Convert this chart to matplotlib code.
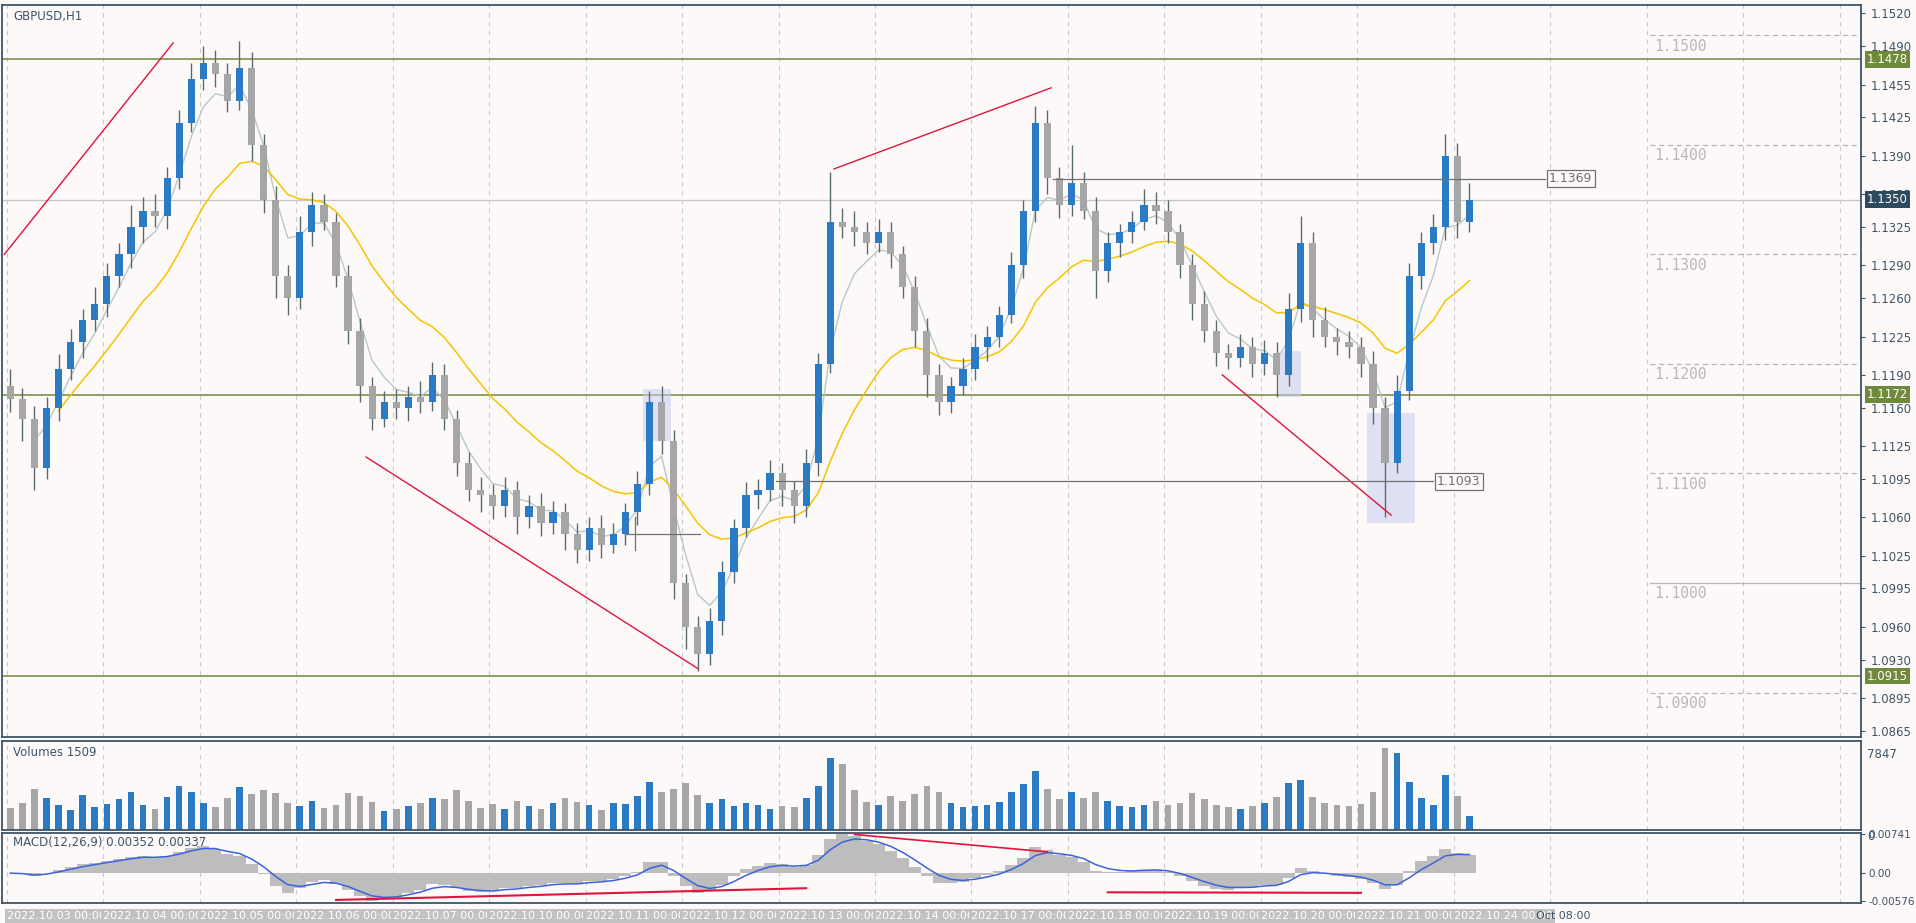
import matplotlib
matplotlib.use("Agg")
import matplotlib.pyplot as plt
from matplotlib.patches import Rectangle
import numpy as np
import pandas as pd

# 3-hour candles (GBPUSD)
closes = [1.1168, 1.1150, 1.1105, 1.1160, 1.1195, 1.1220, 1.1240, 1.1255,
          1.1280, 1.1300, 1.1325, 1.1340, 1.1335, 1.1370, 1.1420, 1.1460,
          1.1475, 1.1465, 1.1440, 1.1470, 1.1400, 1.1350, 1.1280, 1.1260,
          1.1320, 1.1345, 1.1330, 1.1280, 1.1230, 1.1180, 1.1150, 1.1165,
          1.1160, 1.1170, 1.1165, 1.1190, 1.1150, 1.1110, 1.1085, 1.1080,
          1.1070, 1.1085, 1.1060, 1.1070, 1.1055, 1.1065, 1.1045, 1.1030,
          1.1050, 1.1035, 1.1045, 1.1065, 1.1090, 1.1165, 1.1130, 1.1000,
          1.0960, 1.0935, 1.0965, 1.1010, 1.1050, 1.1080, 1.1085, 1.1100,
          1.1085, 1.1070, 1.1110, 1.1200, 1.1330, 1.1325, 1.1320, 1.1310,
          1.1320, 1.1300, 1.1270, 1.1230, 1.1190, 1.1165, 1.1180, 1.1195,
          1.1215, 1.1225, 1.1245, 1.1290, 1.1340, 1.1420, 1.1370, 1.1345,
          1.1365, 1.1340, 1.1285, 1.1310, 1.1320, 1.1330, 1.1345, 1.1340,
          1.1320, 1.1290, 1.1255, 1.1230, 1.1210, 1.1205, 1.1215, 1.1200,
          1.1210, 1.1190, 1.1250, 1.1310, 1.1240, 1.1225, 1.1220, 1.1215,
          1.1200, 1.1160, 1.1110, 1.1175, 1.1280, 1.1310, 1.1325, 1.1390,
          1.1330, 1.1350]
first_open = 1.1180
# wick lengths beyond the body, in pips
wick_up = [15, 10, 12, 10, 14, 12, 10, 15, 12, 10, 20, 12, 15, 10, 12, 15,
           15, 12, 10, 25, 15, 10, 12, 10, 15, 12, 10, 8, 10, 12, 8, 10,
           12, 10, 14, 12, 10, 8, 10, 12, 10, 12, 8, 10, 12, 10, 8, 10,
           10, 12, 10, 8, 12, 10, 15, 10, 8, 10, 12, 10, 8, 12, 10, 12,
           10, 8, 12, 10, 45, 12, 15, 10, 12, 10, 8, 10, 12, 10, 8, 10,
           12, 10, 8, 12, 10, 15, 12, 10, 35, 10, 12, 10, 8, 10, 15, 12,
           10, 8, 10, 12, 10, 8, 12, 10, 12, 10, 15, 25, 10, 12, 8, 10,
           10, 12, 10, 15, 12, 10, 12, 20, 12, 15]
wick_dn = [12, 20, 20, 10, 12, 10, 15, 10, 12, 10, 12, 15, 10, 12, 10, 8,
           10, 12, 10, 8, 15, 12, 20, 15, 10, 12, 8, 10, 12, 15, 10, 8,
           10, 12, 10, 8, 10, 12, 10, 15, 12, 10, 15, 10, 12, 10, 15, 12,
           10, 12, 8, 10, 12, 10, 12, 15, 20, 15, 10, 12, 10, 8, 12, 10,
           15, 15, 10, 12, 8, 10, 12, 10, 8, 12, 10, 15, 20, 12, 10, 8,
           10, 12, 10, 8, 12, 10, 15, 12, 10, 8, 25, 10, 12, 10, 8, 12,
           10, 12, 15, 10, 12, 10, 8, 12, 10, 20, 10, 12, 15, 10, 12, 10,
           12, 15, 50, 10, 8, 12, 10, 12, 15, 10]
volumes = [2100, 2600, 3900, 3000, 2400, 1900, 3300, 2200,
           2500, 2900, 3600, 2400, 2000, 3100, 4200, 3600,
           2600, 2200, 3000, 4100, 3400, 3800, 3500, 2600,
           2300, 2800, 2100, 2400, 3500, 3200, 2700, 1800,
           2000, 2300, 2600, 3000, 2900, 3800, 2800, 2100,
           2500, 2000, 2800, 2300, 2000, 2600, 3000, 2700,
           2400, 1900, 2600, 2500, 3200, 4600, 3600, 3900,
           4500, 3300, 2600, 2900, 2300, 2600, 2400, 2000,
           2300, 2200, 3000, 4200, 6900, 6300, 3800, 2700,
           2400, 3200, 2800, 3400, 4200, 3600, 2600, 2200,
           2300, 2400, 2700, 3600, 4400, 5600, 3900, 2900,
           3600, 3000, 3600, 2800, 2300, 2200, 2400, 2800,
           2400, 2600, 3500, 2900, 2400, 2200, 2000, 2300,
           2600, 3100, 4500, 4800, 3100, 2600, 2400, 2300,
           2500, 3600, 7847, 7300, 4600, 3000, 2400, 5200,
           3200, 1300]
day_labels = ["2022.10.03 00:00", "2022.10.04 00:00", "2022.10.05 00:00", "2022.10.06 00:00",
              "2022.10.07 00:00", "2022.10.10 00:00", "2022.10.11 00:00", "2022.10.12 00:00",
              "2022.10.13 00:00", "2022.10.14 00:00", "2022.10.17 00:00", "2022.10.18 00:00",
              "2022.10.19 00:00", "2022.10.20 00:00", "2022.10.21 00:00", "2022.10.24 00:00"]
price_ticks = [1.1520, 1.1490, 1.1455, 1.1425, 1.1390, 1.1355, 1.1325, 1.1290, 1.1260, 1.1225,
               1.1190, 1.1160, 1.1125, 1.1095, 1.1060, 1.1025, 1.0995, 1.0960, 1.0930, 1.0895, 1.0865]
round_levels = [1.15, 1.14, 1.13, 1.12, 1.11, 1.10, 1.09]
green_levels = [1.1478, 1.1172, 1.0915]
bid = 1.1350
# drawn objects: (x0, y0, x1, y1) in candle index / price
red_trends = [(-0.5, 1.1300, 13.5, 1.1493), (29.5, 1.1115, 57.0, 1.0922),
              (68.3, 1.1378, 86.3, 1.1452), (100.5, 1.1190, 114.5, 1.1062)]
gray_hlines = [(86.5, 127.3, 1.1369), (63.5, 118.0, 1.1093)]
boxes = [(52.5, 54.8, 1.1130, 1.1177), (105.2, 107.0, 1.1170, 1.1212), (112.5, 116.5, 1.1055, 1.1155)]

bg = "#fdf9f8"
blue = "#2a7bc6"
grey = "#a6a6a6"
wick = "#5b6b70"
axc = "#3d5467"

c = np.array(closes)
o = np.concatenate([[first_open], c[:-1]])
hi = np.maximum(o, c) + np.array(wick_up) / 10000
lo = np.minimum(o, c) - np.array(wick_dn) / 10000
n = len(c)
x = np.arange(n)
up = c >= o

L, W = 0.001, 0.9705
fig = plt.figure(figsize=(19.16, 9.23), dpi=100, facecolor=bg)
ax = fig.add_axes([L, 0.201, W, 0.794], facecolor=bg)
axv = fig.add_axes([L, 0.101, W, 0.096], facecolor=bg, sharex=ax)
axm = fig.add_axes([L, 0.022, W, 0.076], facecolor=bg, sharex=ax)

x0lim, xmax = -0.7, 153.5
for a in (ax, axv, axm):
    for s in a.spines.values():
        s.set_color(axc)
        s.set_linewidth(1.3)
    for d in range(0, 160, 8):
        a.axvline(d - 0.3, color="#c9c9c9", lw=0.8, ls=(0, (4, 4)), zorder=0)
    a.set_xlim(x0lim, xmax)
    a.tick_params(axis="x", bottom=False, labelbottom=False)
    a.yaxis.tick_right()
    a.tick_params(axis="y", colors=axc, labelsize=8.5, length=3, pad=4)

# moving averages
cs = pd.Series(c)
ma_fast = cs.ewm(span=4).mean()
ma_slow = cs.ewm(span=16).mean()
ax.plot(x[2:], ma_fast[2:], color="#b8c8c8", lw=1, zorder=2)
ax.plot(x[4:], ma_slow[4:], color="#f5c400", lw=1.1, zorder=2)

# candles
ax.vlines(x, lo, hi, color=wick, lw=1, zorder=3)
ax.bar(x, np.maximum(np.abs(c - o), 0.00005), bottom=np.minimum(o, c), width=0.6,
       color=np.where(up, blue, grey), zorder=4)

for lv in round_levels:
    ax.plot([136.0, xmax], [lv, lv], color="#b4b4b4", lw=0.9,
            ls="-" if lv == 1.10 else (0, (4, 3)), zorder=1)
    ax.text(136.3, lv - 0.0003, f"{lv:.4f}", color="#b8b8b8", fontsize=10.5, va="top",
            family="DejaVu Sans Mono")
for lv in green_levels:
    ax.axhline(lv, color="#6f8a3a", lw=1.1, zorder=1)
    ax.text(1.003, lv, f"{lv:.4f}", transform=ax.get_yaxis_transform(), color="white",
            fontsize=8.5, va="center", ha="left",
            bbox=dict(fc="#6f8a3a", ec="none", pad=1.2), zorder=10, clip_on=False)
ax.axhline(bid, color="#c4c4c4", lw=0.9, zorder=1)
ax.text(1.003, bid, f"{bid:.4f}", transform=ax.get_yaxis_transform(), color="white",
        fontsize=8.5, va="center", ha="left", bbox=dict(fc="#2e4a5f", ec="none", pad=1.2),
        zorder=10, clip_on=False)

for xa, ya, xb, yb in red_trends:
    ax.plot([xa, xb], [ya, yb], color="#e0143c", lw=1, zorder=5)
for xa, xb, lv in gray_hlines:
    ax.plot([xa, xb], [lv, lv], color="#707070", lw=0.9, zorder=5)
    ax.text(xb + 0.3, lv, f"{lv:.4f}", color="#707070", fontsize=9, va="center",
            bbox=dict(fc=bg, ec="#707070", pad=1.5, lw=0.9), zorder=6)
ax.plot([51.0, 57.2], [1.1045, 1.1045], color="#707070", lw=0.9, zorder=5)
ax.plot([51.8, 51.8], [1.1030, 1.1060], color="#707070", lw=0.9, zorder=5)
for xa, xb, ya, yb in boxes:
    ax.add_patch(Rectangle((xa, ya), xb - xa, yb - ya, fc="#c8ccf0", ec="none", alpha=0.55, zorder=2))

ax.set_ylim(1.0859, 1.1528)
ax.set_yticks(price_ticks)
ax.set_yticklabels([f"{t:.4f}" for t in price_ticks])
ax.text(0.006, 0.992, "GBPUSD,H1", transform=ax.transAxes, fontsize=8.5, color=axc, va="top")

# volumes
axv.bar(x, volumes, width=0.55, color=np.where(up, blue, grey))
axv.set_ylim(0, 7847 * 1.08)
axv.set_yticks([0, 7847])
axv.set_yticklabels(["0", "7847"], va="top")
axv.tick_params(axis="y", length=0)
axv.text(0.006, 0.95, "Volumes 1509", transform=axv.transAxes, fontsize=8.5, color=axc, va="top")

# MACD
macd = cs.ewm(span=4).mean() - cs.ewm(span=9).mean()
signal = macd.ewm(span=3).mean()
axm.bar(x, macd, width=1.0, color="#bdbdbd")
axm.plot(x, signal, color="#3a64dc", lw=1.1)
mx, mn = macd.max(), macd.min()
axm.set_ylim(mn * 1.08, mx * 1.05)
axm.set_yticks([mx, 0, mn])
axm.set_yticklabels(["0.00741", "0.00", "-0.00576"], fontsize=7.5)
axm.tick_params(axis="y", pad=2)
axm.plot([27, 66], [mn * 0.98, mn * 0.55], color="#e0143c", lw=1.5)
axm.plot([91, 112], [mn * 0.7, mn * 0.72], color="#e0143c", lw=1.5)
axm.plot([70, 86], [mx * 1.0, mx * 0.55], color="#e0143c", lw=1.2)
axm.text(0.006, 0.95, "MACD(12,26,9) 0.00352 0.00337", transform=axm.transAxes, fontsize=8.5,
         color=axc, va="top")

# date labels
for k, lab in enumerate(day_labels):
    fig.text(L + W * (8 * k - 0.3 - x0lim) / (xmax - x0lim), 0.002, lab, fontsize=8,
             color="white", ha="left", va="bottom",
             bbox=dict(fc="#c2c2c2", ec="none", pad=1.5))
fig.text(L + W * (126.5 - x0lim) / (xmax - x0lim), 0.002, "Oct 08:00", fontsize=8,
         color=axc, ha="left", va="bottom")

fig.savefig("out.png", dpi=100, facecolor=bg)
